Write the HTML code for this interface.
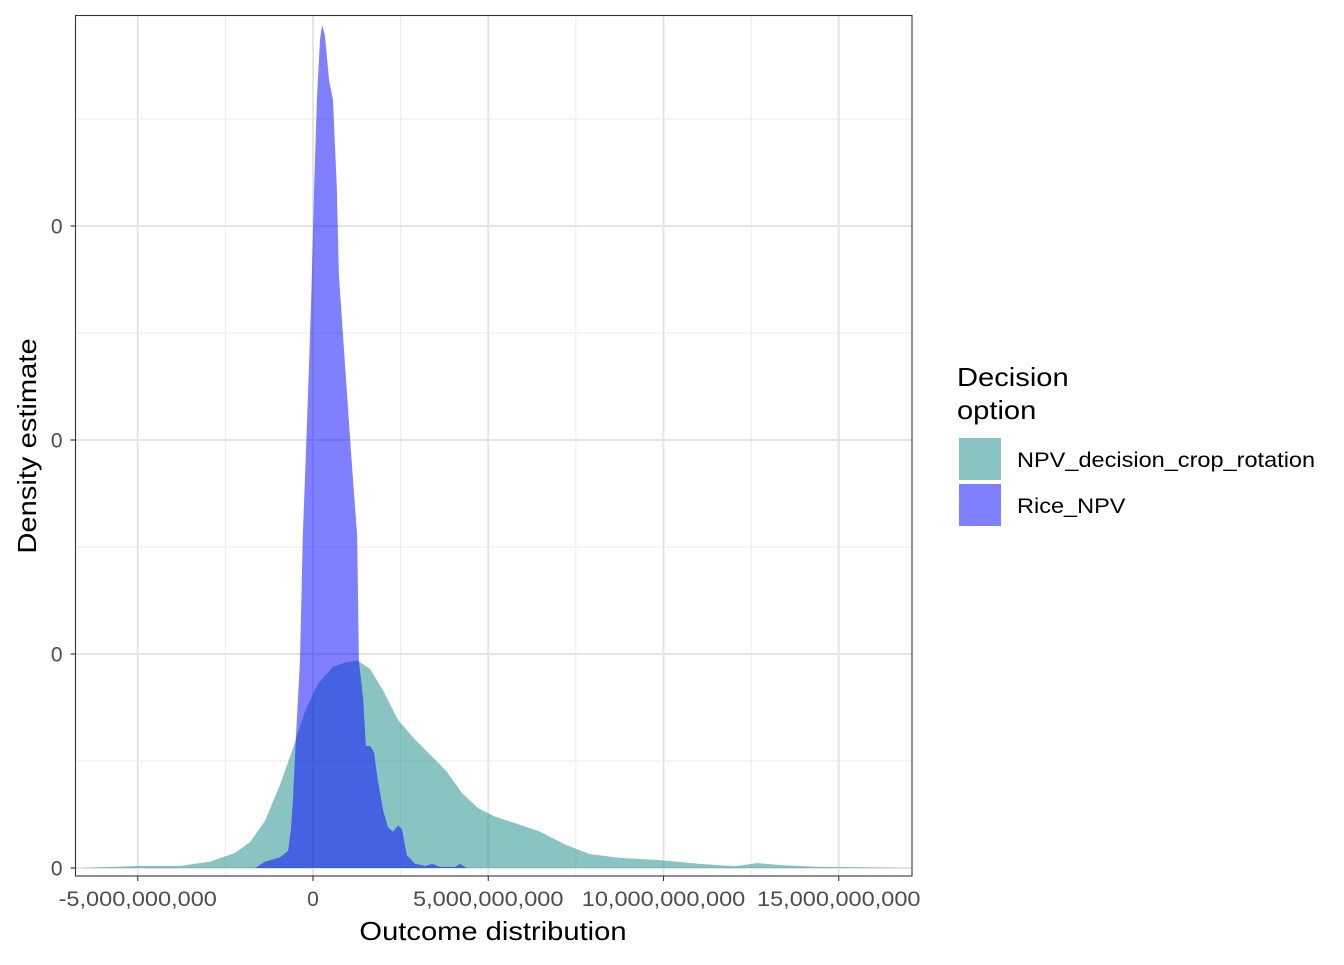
<!DOCTYPE html>
<html><head><meta charset="utf-8"><style>
body{margin:0;background:#fff;}
svg text{font-family:"Liberation Sans",Arial,sans-serif;}
</style></head><body>
<svg width="1344" height="960" xmlns="http://www.w3.org/2000/svg">
<rect width="1344" height="960" fill="#fff"/>
<g id="grid"></g>
<g id="marks"></g>
<rect x="75.5" y="15.5" width="836.5" height="860.5" fill="none" stroke="#333" stroke-width="1.1"/>
<g id="axes"></g>
<text class="s" x="493" y="940" font-size="26" text-anchor="middle" fill="#000">Outcome distribution</text>
<text class="s" transform="translate(36,446) rotate(-90)" font-size="26" text-anchor="middle" fill="#000">Density estimate</text>
<g>
<text class="s" x="957" y="386" font-size="26" fill="#000">Decision</text>
<text class="s" x="957" y="419" font-size="26" fill="#000">option</text>
<rect x="959" y="438" width="42" height="42" fill="rgb(19,137,133)" fill-opacity="0.5"/>
<text class="s" x="1017" y="467" font-size="21" fill="#000">NPV_decision_crop_rotation</text>
<rect x="959" y="484" width="42" height="42" fill="rgb(0,0,255)" fill-opacity="0.5"/>
<text class="s" x="1017" y="513" font-size="21" fill="#000">Rice_NPV</text>
</g>
</svg>
<script>
const xTicks=[-5,0,5,10,15];
const xTickLabels=["-5,000,000,000","0","5,000,000,000","10,000,000,000","15,000,000,000"];
const yTicks=[0,1,2,3];
const yTickLabels=["0","0","0","0"];
const cropX=[-6.59,-4.94,-3.79,-2.94,-2.23,-1.80,-1.37,-0.94,-0.57,-0.23,0.14,0.57,0.91,1.26,1.63,2.00,2.43,2.91,3.40,3.82,4.25,4.71,5.19,5.76,6.48,7.19,7.90,8.76,9.90,11.04,12.04,12.67,13.32,14.46,16.89];
const cropD=[0,0.01,0.01,0.03,0.07,0.12,0.22,0.39,0.56,0.73,0.86,0.94,0.96,0.97,0.93,0.83,0.69,0.60,0.52,0.45,0.35,0.28,0.24,0.21,0.17,0.11,0.065,0.047,0.037,0.019,0.009,0.023,0.014,0.005,0];
const riceX=[-1.65,-1.37,-0.94,-0.71,-0.63,-0.57,-0.49,-0.37,-0.29,-0.20,-0.11,-0.03,0.03,0.11,0.20,0.26,0.34,0.46,0.57,0.68,0.74,0.91,1.08,1.26,1.31,1.43,1.51,1.63,1.74,1.85,2.00,2.14,2.28,2.43,2.54,2.68,2.91,3.20,3.40,3.62,4.05,4.19,4.39];
const riceD=[0,0.03,0.05,0.08,0.18,0.32,0.60,0.97,1.55,1.95,2.36,2.77,3.18,3.59,3.87,3.94,3.89,3.68,3.59,3.18,2.77,2.36,1.95,1.55,0.97,0.79,0.57,0.57,0.54,0.41,0.27,0.19,0.17,0.20,0.18,0.06,0.02,0.01,0.02,0.005,0.005,0.02,0];
const NS='http://www.w3.org/2000/svg';
const X=v=>313+v*35.05, Y=d=>868-d*214;
const L=75.5,R=912,T=15.5,B=876;
const grid=document.getElementById('grid'),marks=document.getElementById('marks'),axes=document.getElementById('axes');
function mk(tag,attrs,parent){const e=document.createElementNS(NS,tag);for(const k in attrs)e.setAttribute(k,attrs[k]);parent.appendChild(e);return e;}
for(let i=0;i<xTicks.length-1;i++){const v=(xTicks[i]+xTicks[i+1])/2;const g=mk('line',{x1:X(v),x2:X(v),y1:T,y2:B,stroke:'#ebebeb','stroke-width':1},grid);

}
for(let i=0;i<yTicks.length;i++){const v=yTicks[i]+0.5;const g=mk('line',{x1:L,x2:R,y1:Y(v),y2:Y(v),stroke:'#ebebeb','stroke-width':1},grid);

}
xTicks.forEach((v,i)=>{const g=mk('line',{x1:X(v),x2:X(v),y1:T,y2:B,stroke:'#e5e5e5','stroke-width':2},grid);


const t=mk('line',{x1:X(v),x2:X(v),y1:B,y2:B+5,stroke:'#333','stroke-width':1.1},axes);


const tx=mk('text',{x:X(v),y:B+30,'font-size':21,'text-anchor':'middle',fill:'#4d4d4d','class':'s'},axes);tx.textContent=xTickLabels[i];

});
yTicks.forEach((v,i)=>{const g=mk('line',{x1:L,x2:R,y1:Y(v),y2:Y(v),stroke:'#e5e5e5','stroke-width':2},grid);


const t=mk('line',{x1:L-5,x2:L,y1:Y(v),y2:Y(v),stroke:'#333','stroke-width':1.1},axes);


const tx=mk('text',{x:L-13,y:Y(v)+7.5,'font-size':21,'text-anchor':'end',fill:'#4d4d4d','class':'s'},axes);tx.textContent=yTickLabels[i];

});
function area(xs,ds,color,name){let d='M'+X(xs[0])+','+Y(0);xs.forEach((x,i)=>{d+=' L'+X(x).toFixed(1)+','+Y(ds[i]).toFixed(1);});d+=' L'+X(xs[xs.length-1])+','+Y(0)+'Z';
const p=mk('path',{d:d,fill:color,'fill-opacity':0.5,stroke:'none','stroke-linejoin':'round'},marks);

}
area(cropX,cropD,'rgb(19,137,133)','crop-rotation-density');
area(riceX,riceD,'rgb(0,0,255)','rice-npv-density');
document.querySelectorAll('text.s').forEach(t=>{const w=t.getComputedTextLength();if(w>15){t.setAttribute('textLength',(w*1.12).toFixed(1));t.setAttribute('lengthAdjust','spacingAndGlyphs');}});
</script>
</body></html>
